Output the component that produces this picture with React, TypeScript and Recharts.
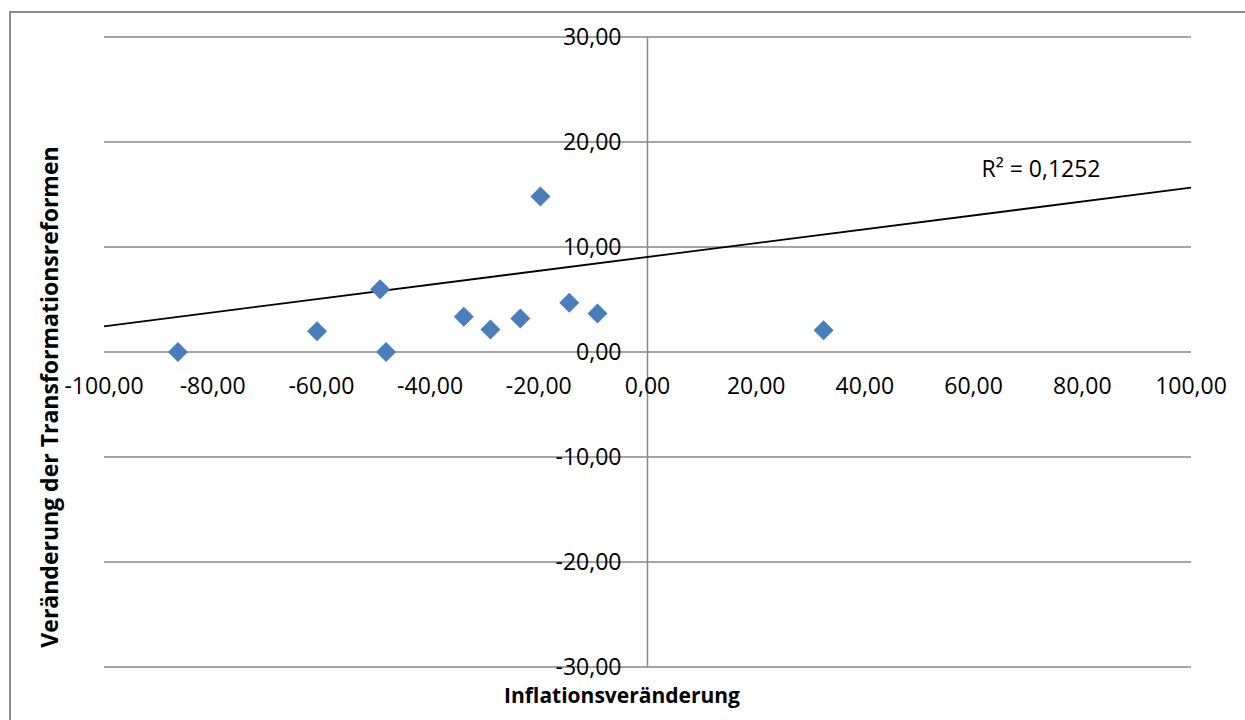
import React from "react";
import {
  ScatterChart,
  Scatter,
  XAxis,
  YAxis,
  CartesianGrid,
  ReferenceLine,
  ReferenceDot,
} from "recharts";

// inflation change (x) vs. change of transformation reforms (y)
const inflationChange = [-86.4, -60.8, -49.2, -48.1, -33.8, -28.9, -23.4, -19.7, -14.4, -9.2, 32.4];
const reformChange = [0, 1.98, 5.98, 0, 3.35, 2.15, 3.2, 14.8, 4.7, 3.66, 2.07];

const xTicks = [-100, -80, -60, -40, -20, 0, 20, 40, 60, 80, 100];
const yTicks = [-30, -20, -10, 0, 10, 20, 30];

// linear trendline end points
const trendX = [-100, 100];
const trendY = [2.45, 15.65];
const r2Text = "R² = 0,1252";

const xTitle = "Inflationsveränderung";
const yTitle = "Veränderung der Transformationsreformen";

const W = 1245;
const H = 720;
const GRID = "#878787";
const BLUE = "#4A7EBB";
const FONT = "'Open Sans', sans-serif";

const fmt = (v: number) => v.toFixed(2).replace(".", ",");

const points = inflationChange.map((x, i) => ({ x, y: reformChange[i] }));
const xTickPoints = xTicks.map((x) => ({ x, y: 0 }));
const yTickPoints = yTicks.map((y) => ({ x: 0, y }));

function Diamond(props: any) {
  const { cx, cy } = props;
  if (typeof cx !== "number" || typeof cy !== "number") return null;
  const r = 10;
  return (
    <polygon
      points={`${cx},${cy - r} ${cx + r},${cy} ${cx},${cy + r} ${cx - r},${cy}`}
      fill={BLUE}
    />
  );
}

function XTickText(props: any) {
  const { cx, cy, payload } = props;
  return (
    <text x={cx} y={cy + 42} textAnchor="middle" fontSize={23} fill="#000">
      {fmt(payload.x)}
    </text>
  );
}

function YTickText(props: any) {
  const { cx, cy, payload } = props;
  return (
    <text x={cx - 26} y={cy + 8} textAnchor="end" fontSize={23} fill="#000">
      {fmt(payload.y)}
    </text>
  );
}

function R2Text(props: any) {
  const { cx, cy } = props;
  return (
    <text x={cx} y={cy + 8} textAnchor="middle" fontSize={23} fill="#000">
      {r2Text}
    </text>
  );
}

export default function App() {
  return (
    <div
      style={{
        position: "absolute",
        left: 0,
        top: 0,
        width: W,
        height: H,
        overflow: "hidden",
        background: "#fff",
        fontFamily: FONT,
      }}
    >
      <ScatterChart
        width={W}
        height={H}
        margin={{ top: 37, right: 54, bottom: 53, left: 104 }}
      >
        <XAxis type="number" dataKey="x" domain={[-100, 100]} hide />
        <YAxis type="number" dataKey="y" domain={[-30, 30]} hide />
        <CartesianGrid
          stroke={GRID}
          strokeWidth={1.5}
          horizontalValues={yTicks}
          verticalValues={[0]}
          fill="none"
        />
        <Scatter
          data={points}
          shape={<Diamond />}
          isAnimationActive={false}
        />
        <ReferenceLine
          segment={[
            { x: trendX[0], y: trendY[0] },
            { x: trendX[1], y: trendY[1] },
          ]}
          stroke="#000"
          strokeWidth={1.8}
          ifOverflow="visible"
        />
        <Scatter data={xTickPoints} shape={XTickText} isAnimationActive={false} />
        <Scatter data={yTickPoints} shape={YTickText} isAnimationActive={false} />
        <ReferenceDot x={72.4} y={17.4} r={0} shape={R2Text} ifOverflow="visible" />
      </ScatterChart>
      <svg
        width={W}
        height={H}
        style={{ position: "absolute", left: 0, top: 0, pointerEvents: "none" }}
      >
        <path d={`M 10 ${H} L 10 12 L ${W} 12`} fill="none" stroke="#8c8c8c" strokeWidth={2} />
        <text
          x={622}
          y={703}
          textAnchor="middle"
          fontSize={21}
          fontWeight="bold"
          fill="#000"
        >
          {xTitle}
        </text>
        <text
          x={58}
          y={397}
          textAnchor="middle"
          fontSize={23}
          fontWeight="bold"
          fill="#000"
          transform="rotate(-90, 58, 397)"
        >
          {yTitle}
        </text>
      </svg>
    </div>
  );
}
